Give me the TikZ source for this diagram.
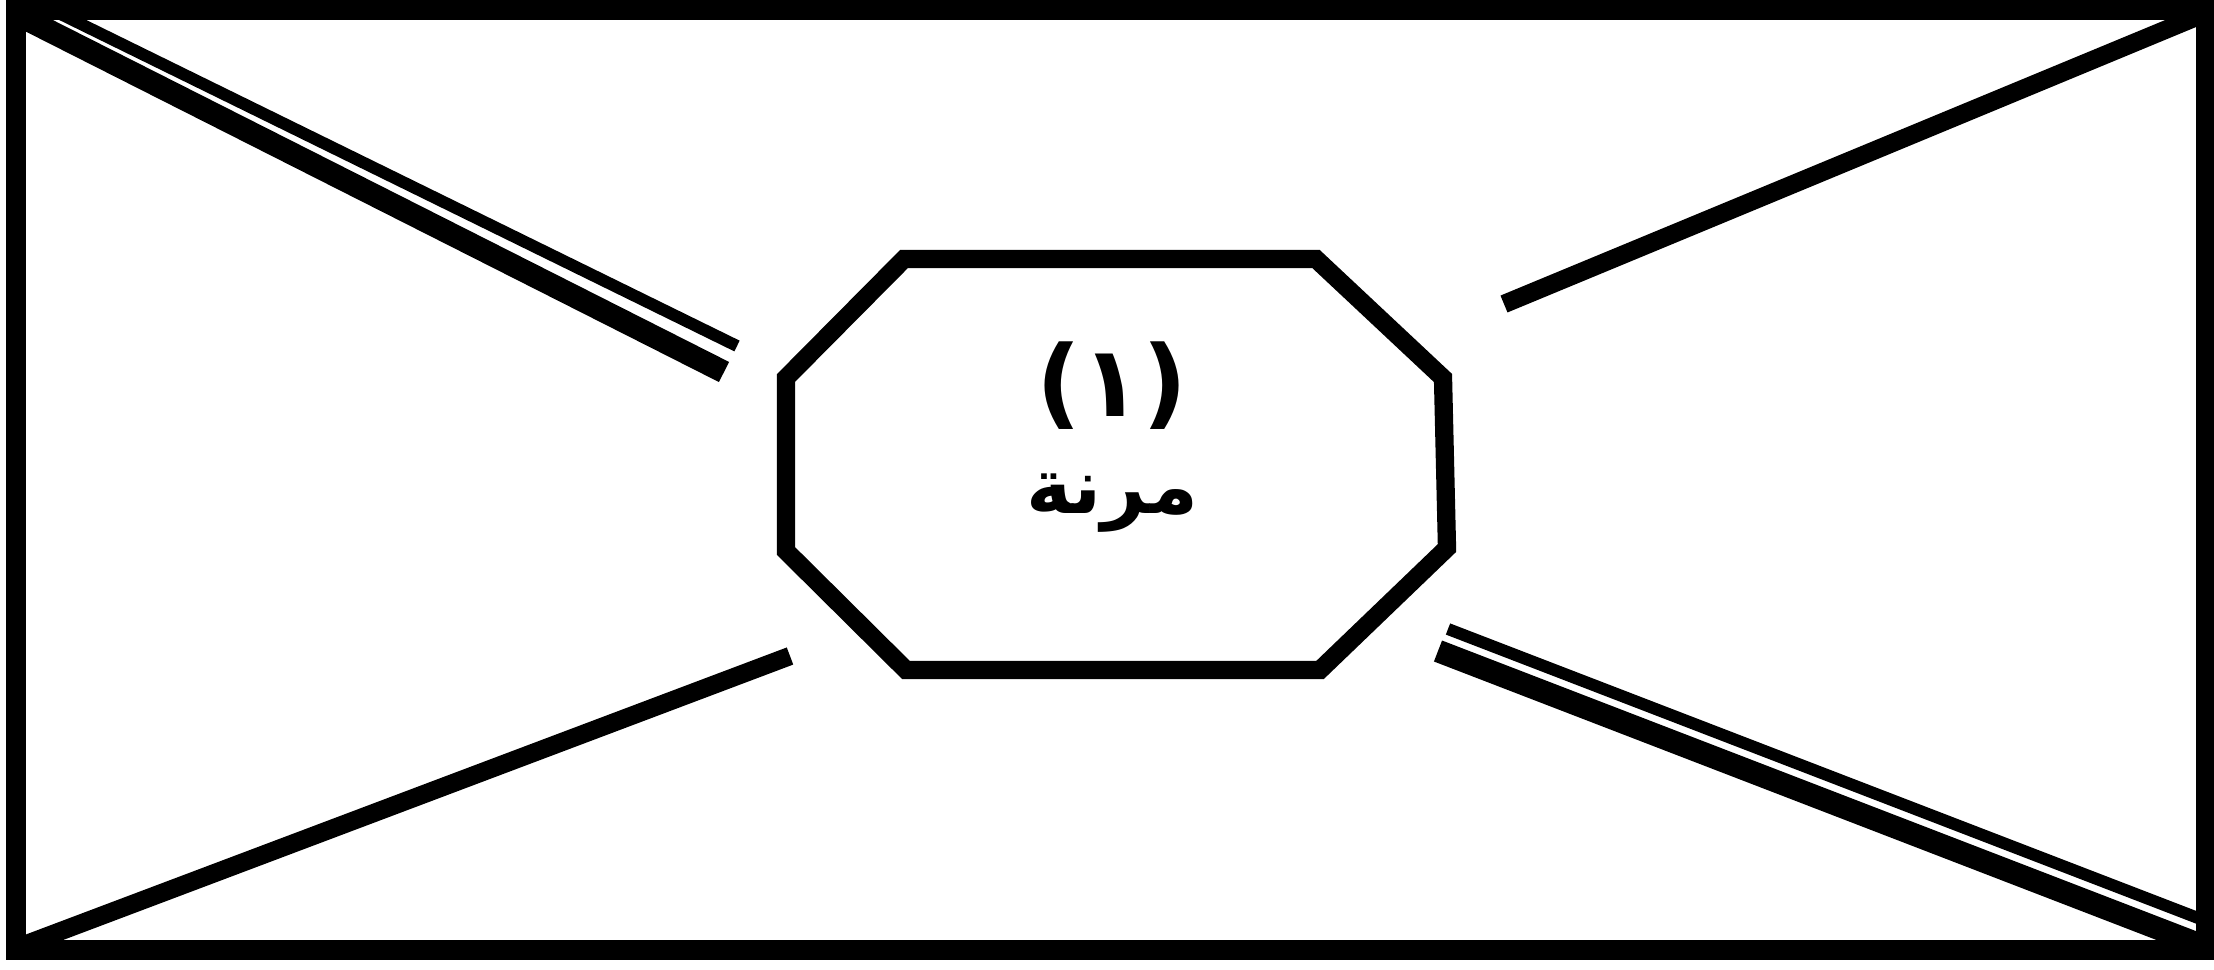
\documentclass[tikz,border=0pt]{standalone}
\usepackage{fontspec}
\usetikzlibrary{positioning}
\newfontfamily\arabicfont[Script=Arabic]{DejaVu Sans}
\TeXXeTstate=1
\tikzset{
  frame/.style={line width=5.8pt},
  octa/.style={line width=5.2pt, line join=miter},
  single/.style={line width=5.2pt},
  thickline/.style={line width=6.4pt},
  thinline/.style={line width=3.4pt},
  arlabel/.style={font=\arabicfont, inner sep=0pt}
}
\begin{document}
\begin{tikzpicture}[x=0.01cm, y=-0.01cm]
  \useasboundingbox (0,0) rectangle (2214,969);

  % Outer frame
  \draw[frame] (16,10) rectangle (2206,950);

  % Middle octagon
  \draw[octa] (904,259) -- (1316,259) -- (1443,378) -- (1447,548)
    -- (1320,670) -- (906,670) -- (786,551) -- (786,378) -- cycle;
  \node[arlabel, font=\arabicfont\bfseries\fontsize{28}{30}\selectfont] (num) at (1112,386) {\beginR(١)\endR};
  \node[arlabel, font=\arabicfont\bfseries\fontsize{22}{24}\selectfont, below=12pt of num] (label) {\beginR مرنة\endR};

  % Single diagonals
  \draw[single] (2206,13) -- (1504,304);
  \draw[single] (16,948) -- (790,656);

  % Double diagonals (top left)
  \draw[thickline] (16,14) -- (724,372);
  \draw[thinline] (30,-1) -- (737,346);

  % Double diagonals (bottom right)
  \draw[thickline] (1438,651) -- (2206,947);
  \draw[thinline] (1448,629) -- (2198,918);
\end{tikzpicture}
\end{document}
